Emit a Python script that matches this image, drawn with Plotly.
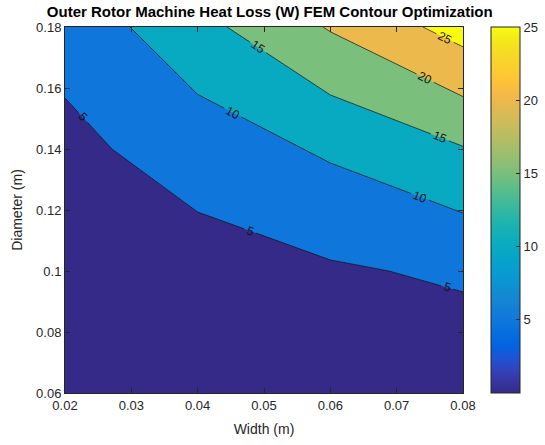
import math
import numpy as np
import plotly.graph_objects as go

# Grid of the FEM sweep
widths = [0.02, 0.04, 0.06, 0.08]          # m
diameters = [0.06, 0.10, 0.14, 0.18]       # m
# Heat loss (W), one row per diameter, one column per width
heat_loss = [
    [0.45, 0.85, 1.20, 1.53],
    [1.50, 2.95, 4.43, 5.72],
    [3.80, 7.19, 10.72, 14.73],
    [6.67, 13.47, 20.38, 27.00],
]
levels = [5, 10, 15, 20, 25]
clim = [0, 25]
cbar_ticks = [5, 10, 15, 20, 25]

# where the inline level labels sit along each contour (x position, m)
label_x = {5: [0.0227, 0.0479, 0.0776], 10: [0.0453, 0.0735], 15: [0.0491, 0.0765],
           20: [0.0743], 25: [0.0773]}

# figure geometry
W, H = 545, 445
ML, MR, MT, MB = 65, 82, 27, 52
XR = [0.02, 0.08]
YR = [0.06, 0.18]
PW, PH = W - ML - MR, H - MT - MB
SX = PW / (XR[1] - XR[0])      # px per metre (x)
SY = PH / (YR[1] - YR[0])      # px per metre (y)

# MATLAB parula (64 entries)
PARULA = np.array([
    [0.2081, 0.1663, 0.5292], [0.2116, 0.1898, 0.5777], [0.2123, 0.2138, 0.6270], [0.2081, 0.2386, 0.6771],
    [0.1959, 0.2645, 0.7279], [0.1707, 0.2919, 0.7792], [0.1253, 0.3242, 0.8303], [0.0591, 0.3598, 0.8683],
    [0.0117, 0.3875, 0.8820], [0.0060, 0.4086, 0.8828], [0.0165, 0.4266, 0.8786], [0.0329, 0.4430, 0.8720],
    [0.0498, 0.4586, 0.8641], [0.0629, 0.4737, 0.8554], [0.0723, 0.4887, 0.8467], [0.0779, 0.5040, 0.8384],
    [0.0793, 0.5200, 0.8312], [0.0749, 0.5375, 0.8263], [0.0641, 0.5570, 0.8240], [0.0488, 0.5772, 0.8228],
    [0.0343, 0.5966, 0.8199], [0.0265, 0.6137, 0.8135], [0.0239, 0.6287, 0.8038], [0.0231, 0.6418, 0.7913],
    [0.0228, 0.6535, 0.7768], [0.0267, 0.6642, 0.7607], [0.0384, 0.6743, 0.7436], [0.0590, 0.6838, 0.7254],
    [0.0843, 0.6928, 0.7062], [0.1133, 0.7015, 0.6859], [0.1453, 0.7098, 0.6646], [0.1801, 0.7177, 0.6424],
    [0.2178, 0.7250, 0.6193], [0.2586, 0.7317, 0.5954], [0.3022, 0.7376, 0.5712], [0.3482, 0.7424, 0.5473],
    [0.3953, 0.7459, 0.5244], [0.4420, 0.7481, 0.5033], [0.4871, 0.7491, 0.4840], [0.5300, 0.7491, 0.4661],
    [0.5709, 0.7485, 0.4494], [0.6099, 0.7473, 0.4337], [0.6473, 0.7456, 0.4188], [0.6834, 0.7435, 0.4044],
    [0.7184, 0.7411, 0.3905], [0.7525, 0.7384, 0.3768], [0.7858, 0.7356, 0.3633], [0.8185, 0.7327, 0.3498],
    [0.8507, 0.7299, 0.3360], [0.8824, 0.7274, 0.3217], [0.9139, 0.7258, 0.3063], [0.9450, 0.7261, 0.2886],
    [0.9739, 0.7314, 0.2666], [0.9938, 0.7455, 0.2403], [0.9990, 0.7653, 0.2164], [0.9955, 0.7861, 0.1967],
    [0.9880, 0.8066, 0.1794], [0.9789, 0.8271, 0.1633], [0.9697, 0.8481, 0.1475], [0.9626, 0.8705, 0.1309],
    [0.9589, 0.8949, 0.1132], [0.9598, 0.9218, 0.0948], [0.9661, 0.9514, 0.0755], [0.9763, 0.9831, 0.0538],
])


def parula(t):
    t = min(max(t, 0.0), 1.0)
    pos = np.linspace(0, 1, len(PARULA))
    rgb = [np.interp(t, pos, PARULA[:, k]) for k in range(3)]
    return "rgb({:.0f},{:.0f},{:.0f})".format(*(255 * np.array(rgb)))


def norm(v):
    return (v - clim[0]) / (clim[1] - clim[0])


# ---------- contour geometry (linear interpolation on cell edges) ----------
def level_segments(xs, ys, z, lev):
    z = np.asarray(z, float)
    segs = []
    for j in range(len(ys) - 1):
        for i in range(len(xs) - 1):
            corners = [(xs[i], ys[j], z[j, i]), (xs[i + 1], ys[j], z[j, i + 1]),
                       (xs[i + 1], ys[j + 1], z[j + 1, i + 1]), (xs[i], ys[j + 1], z[j + 1, i])]
            pts = []
            for k in range(4):
                xa, ya, za = corners[k]
                xb, yb, zb = corners[(k + 1) % 4]
                if (za - lev) * (zb - lev) < 0:
                    t = (lev - za) / (zb - za)
                    pts.append((round(xa + t * (xb - xa), 12), round(ya + t * (yb - ya), 12)))
            if len(pts) == 2:
                segs.append(tuple(pts))
    return segs


def chain(segs):
    segs = list(segs)
    lines = []
    while segs:
        a, b = segs.pop(0)
        line = [a, b]
        grown = True
        while grown:
            grown = False
            for s in segs:
                if s[0] == line[-1] or s[1] == line[-1]:
                    line.append(s[1] if s[0] == line[-1] else s[0])
                    segs.remove(s); grown = True; break
                if s[0] == line[0] or s[1] == line[0]:
                    line.insert(0, s[1] if s[0] == line[0] else s[0])
                    segs.remove(s); grown = True; break
        if line[0][0] > line[-1][0]:
            line.reverse()
        lines.append(line)
    return lines


def to_px(p):
    return ((p[0] - XR[0]) * SX, -(p[1] - YR[0]) * SY)


def arclen(line):
    px = [to_px(p) for p in line]
    s = [0.0]
    for a, b in zip(px[:-1], px[1:]):
        s.append(s[-1] + math.hypot(b[0] - a[0], b[1] - a[1]))
    return s


def point_at(line, s, target):
    for k in range(len(line) - 1):
        if s[k] <= target <= s[k + 1]:
            t = 0 if s[k + 1] == s[k] else (target - s[k]) / (s[k + 1] - s[k])
            a, b = line[k], line[k + 1]
            return (a[0] + t * (b[0] - a[0]), a[1] + t * (b[1] - a[1])), k
    return line[-1], len(line) - 2


def cut(line, gaps):
    """Split a polyline, removing the arclength intervals in gaps."""
    s = arclen(line)
    edges = [0.0]
    for g0, g1 in sorted(gaps):
        edges += [max(g0, 0), min(g1, s[-1])]
    edges.append(s[-1])
    pieces = []
    for k in range(0, len(edges), 2):
        s0, s1 = edges[k], edges[k + 1]
        if s1 - s0 <= 0:
            continue
        p0, k0 = point_at(line, s, s0)
        p1, k1 = point_at(line, s, s1)
        pieces.append([p0] + [line[m] for m in range(k0 + 1, k1 + 1)] + [p1])
    return pieces


AX = "#262626"
FONT = "Liberation Sans, Arial, sans-serif"
LABEL_SIZE = 12

# each filled band takes the colour of its lower level (bottom band: clim minimum)
band_values = [clim[0]] + levels
n_bands = len(band_values)
fill_scale = [[i / (n_bands - 1), parula(norm(v))] for i, v in enumerate(band_values)]
cont_scale = [[p, parula(p)] for p in np.linspace(0, 1, 33)]

fig = go.Figure()
fig.add_trace(go.Contour(
    x=widths, y=diameters, z=heat_loss,
    autocontour=False,
    contours=dict(start=levels[0], end=levels[-1], size=levels[1] - levels[0],
                  coloring="fill", showlines=False),
    colorscale=fill_scale,
    line=dict(width=0, smoothing=0),
    showscale=False,
    hoverinfo="skip",
))

# contour lines with inline labels
annotations = []
for lev in levels:
    lines = chain(level_segments(widths, diameters, heat_loss, lev))
    text = str(lev)
    half = 0.5 * (0.56 * LABEL_SIZE * len(text)) + 3
    for line in lines:
        s = arclen(line)
        gaps = []
        for lx in label_x.get(lev, []):
            if not (line[0][0] <= lx <= line[-1][0]):
                continue
            # arclength where the polyline reaches lx
            for k in range(len(line) - 1):
                a, b = line[k], line[k + 1]
                if min(a[0], b[0]) <= lx <= max(a[0], b[0]) and a[0] != b[0]:
                    t = (lx - a[0]) / (b[0] - a[0])
                    sc = s[k] + t * (s[k + 1] - s[k])
                    break
            (cx, cy), kk = point_at(line, s, sc)
            a, b = line[kk], line[kk + 1]
            ang = math.degrees(math.atan2(-(b[1] - a[1]) * SY, (b[0] - a[0]) * SX))
            gaps.append((sc - half, sc + half))
            annotations.append(dict(x=cx, y=cy, xref="x", yref="y", text=text,
                                    showarrow=False, textangle=ang,
                                    xanchor="center", yanchor="middle",
                                    font=dict(size=LABEL_SIZE, color="#111111", family=FONT)))
        for piece in cut(line, gaps):
            fig.add_trace(go.Scatter(
                x=[p[0] for p in piece], y=[p[1] for p in piece], mode="lines",
                line=dict(color="#111111", width=0.7), hoverinfo="skip", showlegend=False,
            ))

# continuous colour bar
fig.add_trace(go.Scatter(
    x=[widths[0]], y=[diameters[0]], mode="markers",
    marker=dict(size=1, opacity=0, color=[clim[0]], cmin=clim[0], cmax=clim[1],
                colorscale=cont_scale, showscale=True,
                colorbar=dict(x=(491 - ML) / PW, xanchor="left", xpad=0, y=0.5, yanchor="middle",
                              len=1, lenmode="fraction", ypad=0,
                              thickness=29, thicknessmode="pixels",
                              outlinewidth=1, outlinecolor=AX,
                              tickvals=cbar_ticks, ticks="inside", ticklen=4,
                              tickcolor=AX, tickfont=dict(size=13, color=AX, family=FONT))),
    hoverinfo="skip", showlegend=False,
))

axis_common = dict(
    showline=True, linecolor=AX, linewidth=1, mirror="ticks",
    ticks="inside", ticklen=5, tickcolor=AX, tickwidth=1,
    showgrid=False, zeroline=False,
    tickfont=dict(size=13, color=AX, family=FONT),
)

fig.update_layout(
    width=W, height=H,
    margin=dict(l=ML, r=MR, t=MT, b=MB, autoexpand=False),
    paper_bgcolor="white", plot_bgcolor="white",
    showlegend=False,
    annotations=annotations,
    title=dict(text="<b>Outer Rotor Machine Heat Loss (W) FEM Contour Optimization</b>",
               x=0.495, xanchor="center", y=0.974, yanchor="middle", yref="container",
               font=dict(size=15, color="black", family=FONT)),
    xaxis=dict(range=XR, tickvals=[0.02, 0.03, 0.04, 0.05, 0.06, 0.07, 0.08],
               ticktext=["0.02", "0.03", "0.04", "0.05", "0.06", "0.07", "0.08"],
               title=dict(text="Width (m)", standoff=12,
                          font=dict(size=14, color=AX, family=FONT)),
               **axis_common),
    yaxis=dict(range=YR, tickvals=[0.06, 0.08, 0.1, 0.12, 0.14, 0.16, 0.18],
               ticktext=["0.06", "0.08", "0.1", "0.12", "0.14", "0.16", "0.18"],
               title=dict(text="Diameter (m)", standoff=10,
                          font=dict(size=14, color=AX, family=FONT)),
               **axis_common),
)

fig.write_html("out.html")
